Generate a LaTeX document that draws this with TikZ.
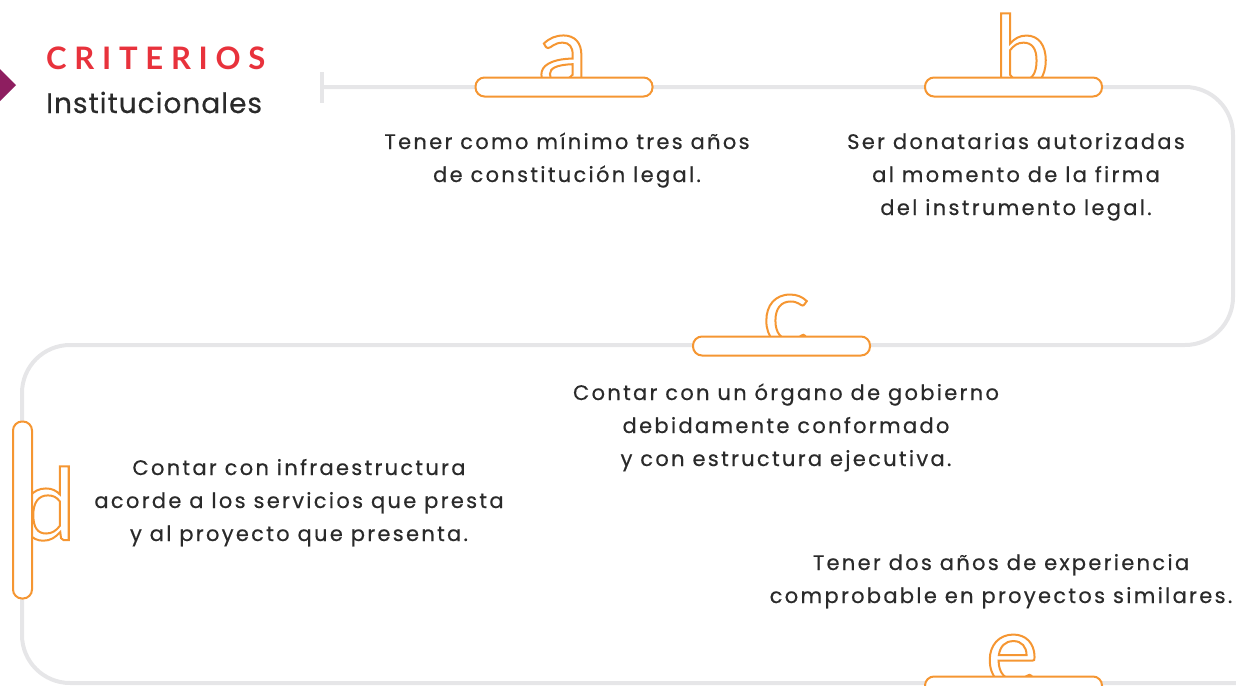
\documentclass[tikz,border=0pt]{standalone}
\usepackage{fontspec}
\setmainfont{Poppins}
\newfontfamily\headfont[LetterSpace=25]{Lato}
\newfontfamily\subfont[LetterSpace=3.5,FakeBold=0.4]{Poppins}
\newfontfamily\tagfont{Lato}
\newfontfamily\bodyfont[LetterSpace=11,FakeBold=0.5,Ligatures=NoCommon]{Poppins}
\definecolor{trackgray}{RGB}{230,230,232}
\definecolor{tagorange}{RGB}{245,150,50}
\definecolor{headred}{RGB}{232,50,60}
\definecolor{markpurple}{RGB}{142,30,96}
\definecolor{inkgray}{RGB}{42,42,42}
% hollow (stroked) letters for the tags
\newcommand\hollow[1]{\special{pdf:literal direct 1 Tr 2 w}#1\special{pdf:literal direct 0 Tr}}
\tikzset{
  track/.style={draw=trackgray,line width=4pt,rounded corners=48pt},
  pill/.style={draw=tagorange,fill=white,line width=2pt,rounded corners=9pt,inner sep=0pt,minimum width=177pt,minimum height=19pt},
  tagletter/.style={text=tagorange,inner sep=0pt,anchor=base,font=\tagfont\fontsize{100}{100}\selectfont},
  criterio/.style={text=inkgray,align=center,anchor=base,inner sep=0pt,font=\bodyfont\fontsize{21}{33}\selectfont}
}
\begin{document}
\begin{tikzpicture}[x=1pt,y=-1pt]
\useasboundingbox (0,0) rectangle (1236,685);
% route
\coordinate (tickup) at (322,72);
\coordinate (tickdown) at (322,103);
\coordinate (go) at (322,87);
\coordinate (turnA) at (1233,87);
\coordinate (turnB) at (1233,345);
\coordinate (turnC) at (22,345);
\coordinate (turnD) at (22,683);
\coordinate (stop) at (1260,683);
\draw[track] (go) -- (turnA) -- (turnB) -- (turnC) -- (turnD) -- (stop);
\draw[draw=trackgray,line width=4pt] (tickup) -- (tickdown);
% heading
\fill[markpurple] (-2,67) -- (16,85) -- (-2,103) -- cycle;
\node[anchor=base west,inner sep=0pt,text=headred,font=\headfont\bfseries\fontsize{31}{31}\selectfont] (crit) at (46,70) {CRITERIOS};
\node[anchor=base west,inner sep=0pt,text=inkgray,font=\subfont\fontsize{28}{28}\selectfont] (inst) at (46,113) {Institucionales};
% tags
\node[tagletter] (la) at (563,87) {\hollow{a}};
\node[tagletter] (lb) at (1022,87) {\hollow{b}};
\node[tagletter] (lc) at (786,346) {\hollow{c}};
\node[tagletter,anchor=base east] (ld) at (76,540) {\hollow{d}};
\node[tagletter] (le) at (1012,686) {\hollow{e}};
\node[pill] (pa) at (564,87) {};
\node[pill] (pb) at (1013.5,87) {};
\node[pill] (pc) at (781.5,346) {};
\node[pill,minimum width=19pt,minimum height=177pt] (pd) at (22.5,510) {};
\node[pill] (pe) at (1013.5,686) {};
% criterios (base = last line)
\node[criterio] (ca) at (567,182) {Tener como mínimo tres años\\de constitución legal.};
\node[criterio] (cb) at (1016,215) {Ser donatarias autorizadas\\al momento de la firma\\del instrumento legal.};
\node[criterio] (cc) at (786,466) {Contar con un órgano de gobierno\\debidamente conformado\\y con estructura ejecutiva.};
\node[criterio] (cd) at (299,541) {Contar con infraestructura\\acorde a los servicios que presta\\y al proyecto que presenta.};
\node[criterio] (ce) at (1001,603) {Tener dos años de experiencia\\comprobable en proyectos similares.};
\end{tikzpicture}
\end{document}
